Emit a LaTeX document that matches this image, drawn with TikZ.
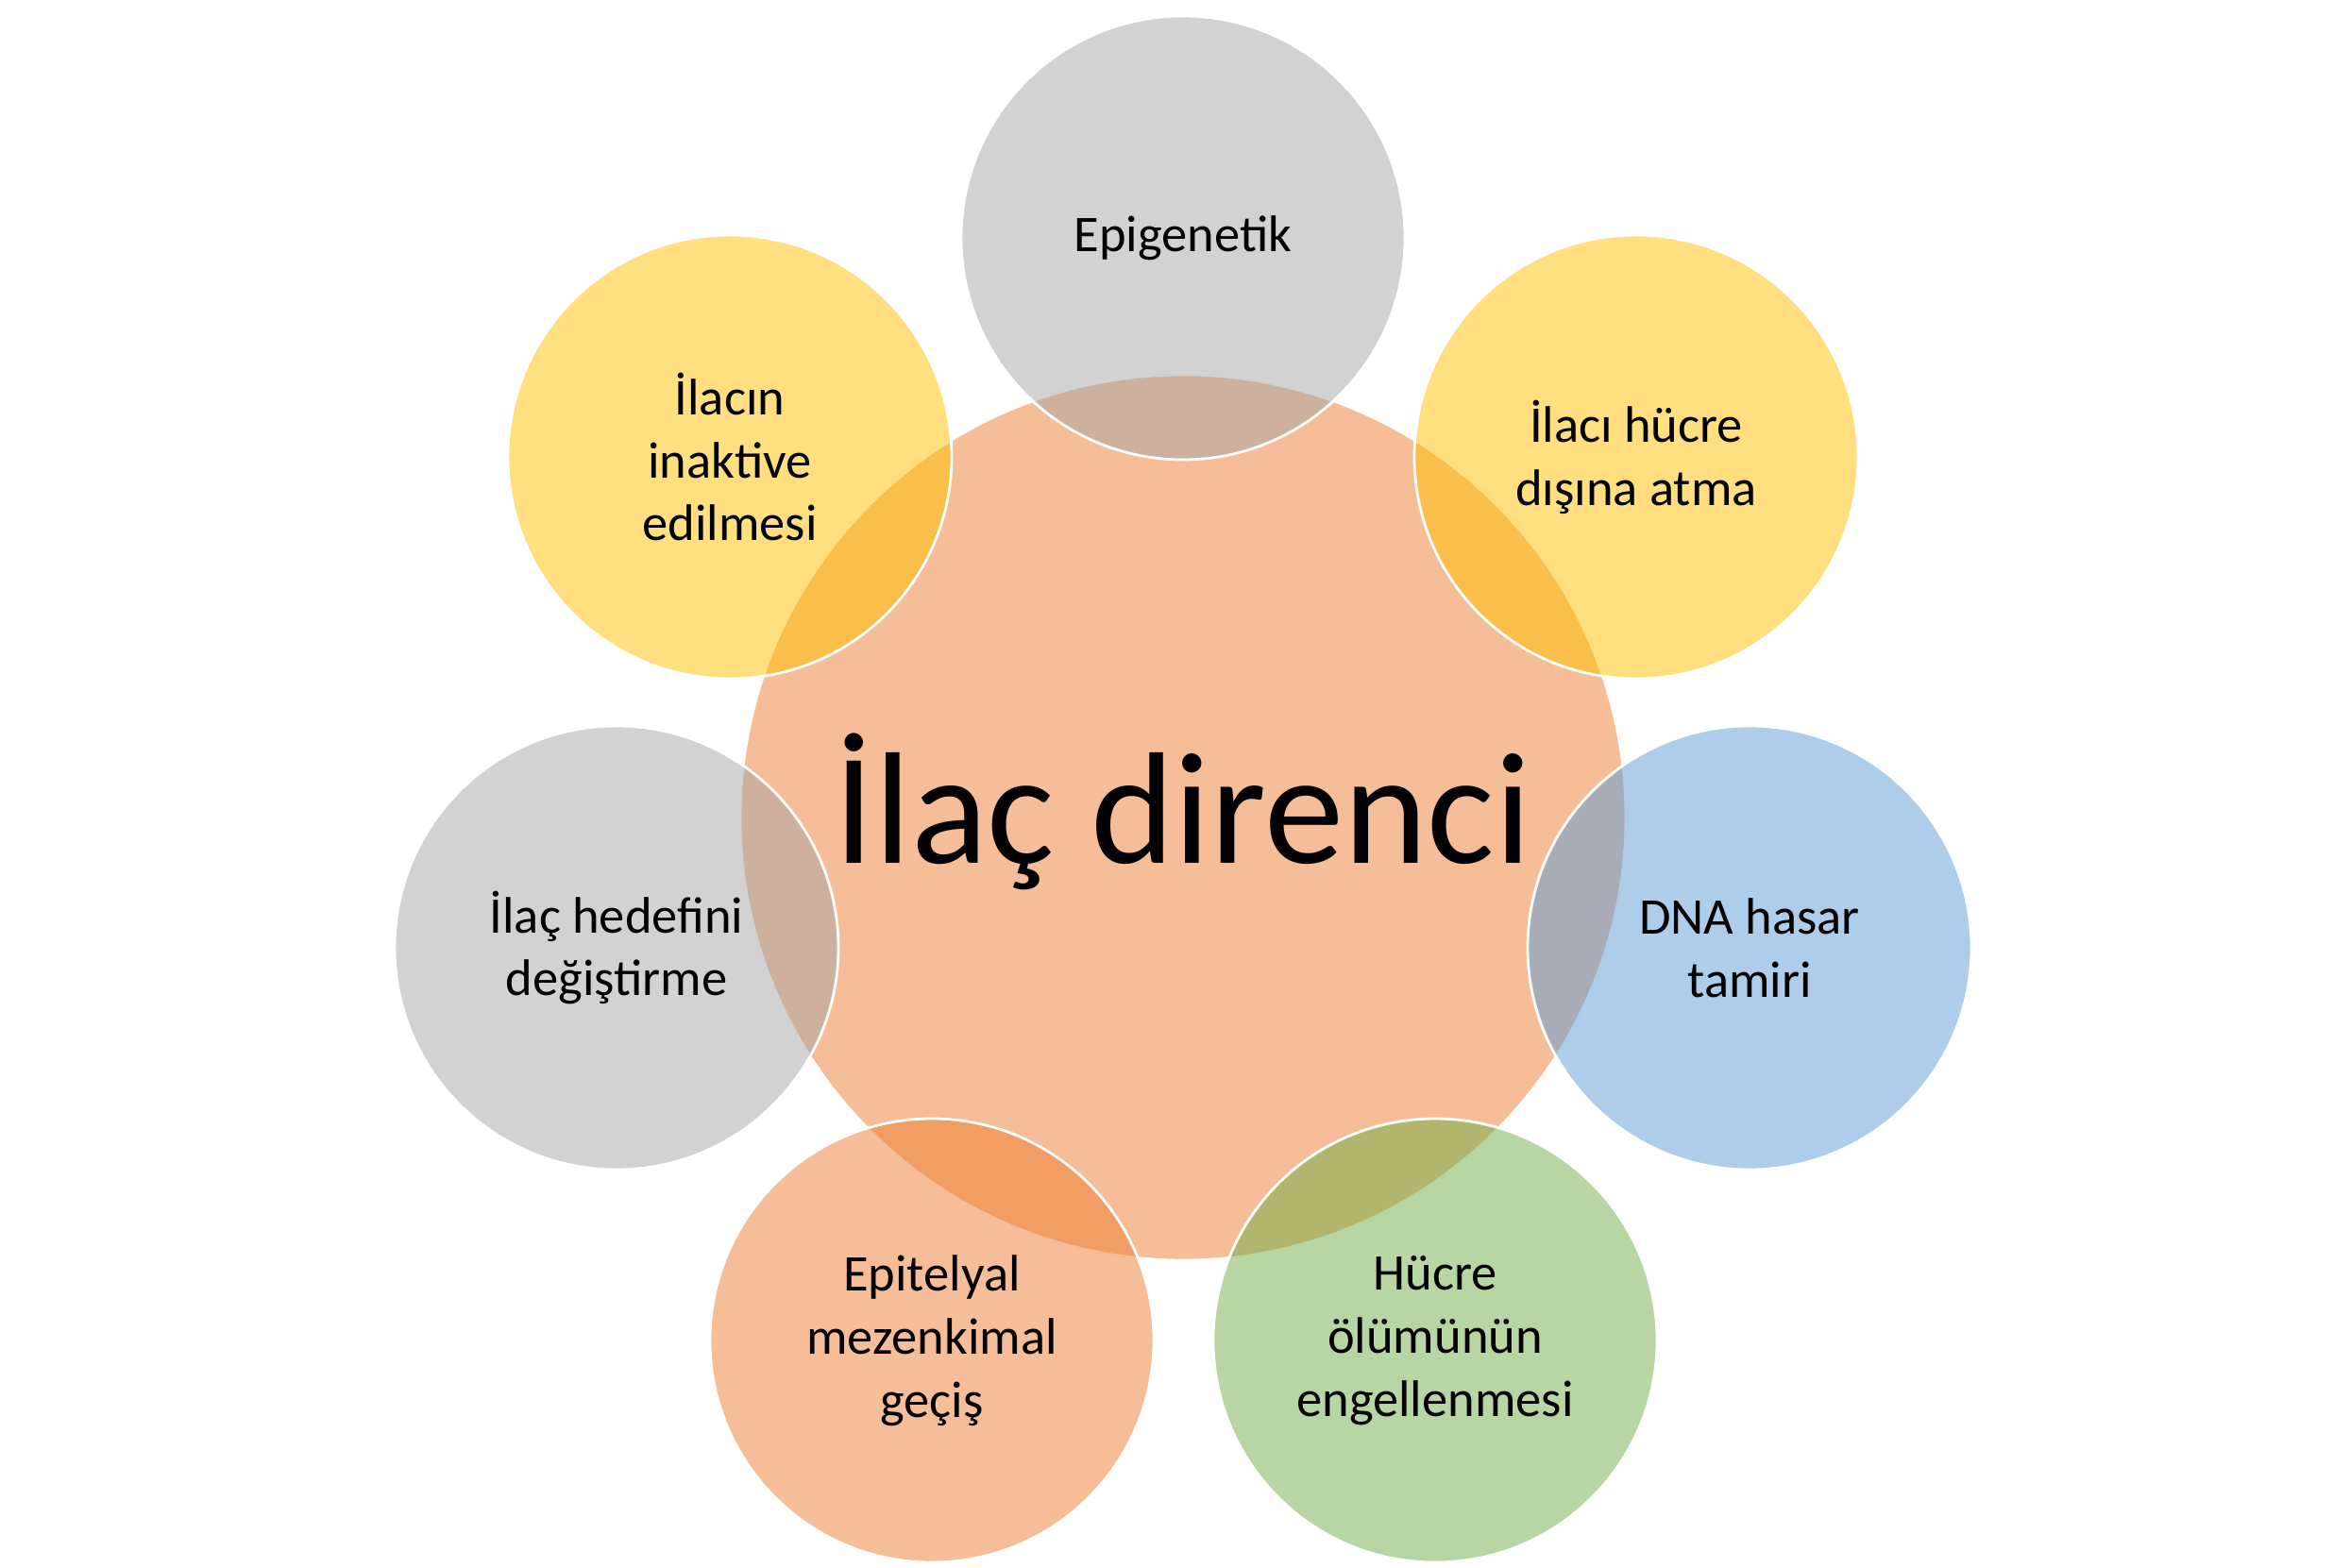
\documentclass[tikz,border=0pt]{standalone}
\usepackage{fontspec}
\setmainfont{Carlito}
\definecolor{ofOrange}{HTML}{ED7D31}
\definecolor{ofGray}{HTML}{A5A5A5}
\definecolor{ofYellow}{HTML}{FFC000}
\definecolor{ofBlue}{HTML}{5B9BD5}
\definecolor{ofGreen}{HTML}{70AD47}
\tikzset{
  blob/.style={circle,draw=white,line width=0.8pt,fill opacity=0.5,text opacity=1,
    minimum size=4.7cm,align=center,font=\fontsize{15.5}{19}\selectfont}
}
\begin{document}
\begin{tikzpicture}
	\useasboundingbox (0,0) rectangle (24.89,16.6);
	\node[blob,fill=ofOrange,minimum size=9.38cm] (core) at (12.53,7.94) {};
	\node[font=\fontsize{48}{56}\selectfont] (coretext) at (12.53,8.0) {İlaç direnci};

	\node[blob,fill=ofGray] (epi) at (12.53,14.08) {Epigenetik};
	\node[blob,fill=ofYellow] (efflux) at (17.33,11.76) {İlacı hücre\\dışına atma};
	\node[blob,fill=ofBlue] (dna) at (18.53,6.56) {DNA hasar\\tamiri};
	\node[blob,fill=ofGreen] (apop) at (15.2,2.4) {Hücre\\ölümünün\\engellenmesi};
	\node[blob,fill=ofOrange] (emt) at (9.87,2.4) {Epitelyal\\mezenkimal\\geçiş};
	\node[blob,fill=ofGray] (target) at (6.53,6.56) {İlaç hedefini\\değiştirme};
	\node[blob,fill=ofYellow] (inact) at (7.73,11.76) {İlacın\\inaktive\\edilmesi};
\end{tikzpicture}
\end{document}
